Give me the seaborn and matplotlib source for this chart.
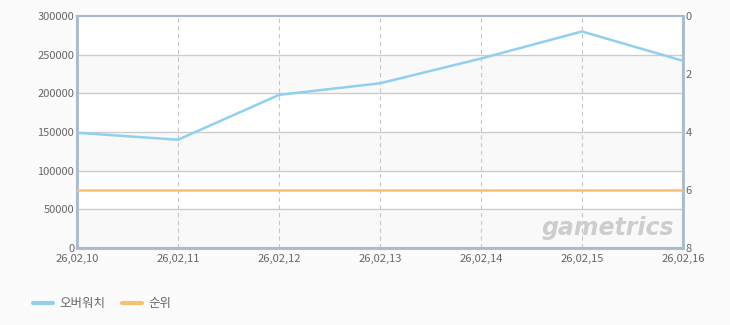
import matplotlib
matplotlib.use("Agg")
import matplotlib.pyplot as plt
import seaborn as sns
import pandas as pd
from matplotlib.lines import Line2D

dates = ["26,02,10", "26,02,11", "26,02,12", "26,02,13", "26,02,14", "26,02,15", "26,02,16"]
overwatch = [149000, 140000, 198000, 213000, 245000, 280000, 242000]
rank = [6, 6, 6, 6, 6, 6, 6]
left_ticks = [0, 50000, 100000, 150000, 200000, 250000, 300000]
right_ticks = [0, 2, 4, 6, 8]
series_names = ["오버워치", "순위"]

sns.set_theme(style="white")
plt.rcParams["font.family"] = ["Noto Sans CJK KR", "DejaVu Sans"]

blue = "#8fd0f0"
orange = "#f8c171"
bg = "#fbfbfb"
spine_c = "#a9bbd0"
txt_c = "#666666"

fig = plt.figure(figsize=(7.3, 3.25), dpi=100, facecolor=bg)
ax = fig.add_axes([77/730, 1-248/325, (683-77)/730, (248-16)/325])
ax.set_facecolor("white")

df = pd.DataFrame({"x": range(len(dates)), "ow": overwatch, "rank": rank})

# alternating bands
for i in range(len(left_ticks)-1):
    lo, hi = left_ticks[i], left_ticks[i+1]
    if i % 2 == 0:
        ax.axhspan(lo, hi, color="#f9f9f9", zorder=0, lw=0)

for t in left_ticks[1:-1]:
    ax.axhline(t, color="#cccccc", lw=1, zorder=1)
for i in range(1, len(dates)-1):
    ax.axvline(i, color="#c8c8c8", lw=0.8, ls=(0, (4, 3)), zorder=1)

sns.lineplot(data=df, x="x", y="ow", ax=ax, color=blue, lw=1.8, zorder=3, legend=False)
ax.set_xlim(0, len(dates)-1)
ax.set_ylim(0, 300000)
ax.set_yticks(left_ticks)
ax.set_yticklabels([str(v) for v in left_ticks])
ax.set_xticks(range(len(dates)))
ax.set_xticklabels(dates)
ax.set_xlabel("")
ax.set_ylabel("")

ax2 = ax.twinx()
sns.lineplot(data=df, x="x", y="rank", ax=ax2, color=orange, lw=1.8, zorder=3, legend=False)
ax2.set_ylim(8, 0)
ax2.set_yticks(right_ticks)
ax2.set_ylabel("")
ax2.set_xlim(0, len(dates)-1)

for a in (ax, ax2):
    a.tick_params(axis="both", labelsize=8, colors=txt_c, length=0, pad=2)
    for s in a.spines.values():
        s.set_color(spine_c)
        s.set_linewidth(1.5)
ax.spines["left"].set_linewidth(2)
ax.spines["bottom"].set_linewidth(2)
ax2.spines["right"].set_linewidth(2)
ax.tick_params(axis="x", pad=4)
ax2.tick_params(axis="y", pad=2)

ax.text(0.985, 0.035, "gametrics", transform=ax.transAxes, ha="right", va="bottom",
        fontsize=17, fontweight="bold", style="italic", color="#cdcdcd",
        family="DejaVu Sans", zorder=2)

handles = [Line2D([0], [0], color=blue, lw=3), Line2D([0], [0], color=orange, lw=3)]
fig.legend(handles, series_names, loc="lower left", bbox_to_anchor=(0.03, 0.01),
           ncol=2, frameon=False, fontsize=9, labelcolor=txt_c,
           handlelength=1.6, columnspacing=1.3, handletextpad=0.5)

fig.savefig("out.png", dpi=100, facecolor=bg)
